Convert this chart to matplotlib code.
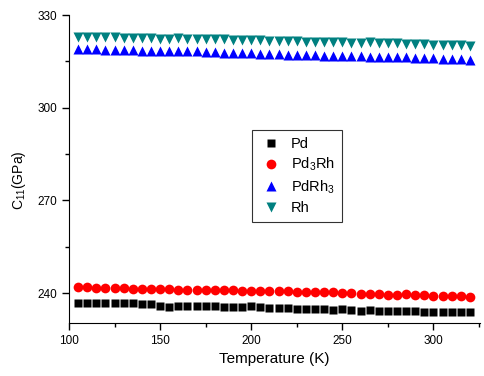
import numpy as np
import matplotlib
matplotlib.use("Agg")
import matplotlib.pyplot as plt
from matplotlib.ticker import MultipleLocator

plt.rcParams['font.family'] = ['Liberation Sans', 'DejaVu Sans']
plt.rcParams['mathtext.fontset'] = 'custom'
plt.rcParams['mathtext.rm'] = 'Liberation Sans'
plt.rcParams['mathtext.it'] = 'Liberation Sans'

# temperature (K)
temp = list(range(105, 321, 5))

# C11 (GPa)
pd = [236.8, 236.8, 236.8, 236.7, 236.7, 236.7, 236.7, 236.5, 236.3, 235.8, 235.6,
      235.7, 235.9, 235.8, 235.7, 235.7, 235.6, 235.6, 235.6, 235.7, 235.4, 235.2,
      235.2, 235.1, 234.9, 234.9, 234.8, 234.7, 234.6, 234.8, 234.6, 234.3, 234.6,
      234.1, 234.2, 234.2, 234.2, 234.1, 234.0, 233.8, 234.0, 234.0, 233.9, 233.8]
pd3rh = [241.9, 241.9, 241.6, 241.6, 241.5, 241.5, 241.4, 241.3, 241.3, 241.3, 241.3,
         241.0, 241.0, 241.1, 241.0, 240.9, 240.9, 240.9, 240.8, 240.8, 240.8, 240.5,
         240.5, 240.5, 240.3, 240.4, 240.3, 240.3, 240.2, 239.9, 239.9, 239.8, 239.6,
         239.6, 239.5, 239.5, 239.6, 239.4, 239.4, 239.0, 239.1, 239.0, 239.0, 238.6]
pdrh3 = [319.0, 318.9, 318.9, 318.8, 318.7, 318.7, 318.6, 318.5, 318.5, 318.4, 318.3,
         318.2, 318.2, 318.2, 318.0, 317.9, 317.8, 317.8, 317.7, 317.6, 317.5, 317.5,
         317.3, 317.2, 317.2, 317.1, 317.1, 316.9, 316.8, 316.8, 316.7, 316.6, 316.5,
         316.5, 316.4, 316.3, 316.3, 316.2, 316.1, 316.0, 315.9, 315.9, 315.7, 315.3]
rh = [323.0, 322.9, 322.9, 322.8, 322.8, 322.7, 322.6, 322.6, 322.5, 322.4, 322.4,
      322.5, 322.3, 322.2, 322.2, 322.1, 322.1, 322.0, 322.0, 322.0, 321.9, 321.6,
      321.6, 321.5, 321.5, 321.4, 321.4, 321.3, 321.2, 321.2, 321.0, 321.0, 321.3,
      321.1, 320.9, 320.8, 320.7, 320.6, 320.5, 320.4, 320.2, 320.3, 320.2, 319.9]

fig = plt.figure(figsize=(4.84, 3.76), dpi=100)
ax = fig.add_axes([0.1426, 0.141, 0.849, 0.819])

ax.plot(temp, pd, 's', color='black', ms=6, mec='none', label='Pd')
ax.plot(temp, pd3rh, 'o', color='red', ms=7, mec='none', label='Pd$_3$Rh')
ax.plot(temp, pdrh3, '^', color='blue', ms=7.5, mec='none', label='PdRh$_3$')
ax.plot(temp, rh, 'v', color='#008080', ms=7.5, mec='none', label='Rh')

ax.set_xlim(100, 325.5)
ax.set_ylim(230.3, 330)
ax.xaxis.set_major_locator(MultipleLocator(50))
ax.xaxis.set_minor_locator(MultipleLocator(25))
ax.yaxis.set_major_locator(MultipleLocator(30))
ax.yaxis.set_minor_locator(MultipleLocator(15))
ax.set_yticks([240, 270, 300, 330])

for s in ['top', 'right']:
    ax.spines[s].set_visible(False)
ax.tick_params(which='major', direction='out', length=5, width=1, labelsize=8.5)
ax.tick_params(which='minor', direction='out', length=3, width=1)

ax.set_xlabel('Temperature (K)', fontsize=11)
ax.set_ylabel('C$_{11}$(GPa)', fontsize=10)
ax.yaxis.set_label_coords(-0.1, 0.464)

leg = ax.legend(loc='center', bbox_to_anchor=(297 / 484, 1 - 176 / 376),
                bbox_transform=fig.transFigure, fontsize=10.5, frameon=True,
                fancybox=False, edgecolor='black', handletextpad=0.6,
                handlelength=1.6, labelspacing=0.35, borderpad=0.45)
leg.get_frame().set_linewidth(0.8)

fig.savefig('out.png', dpi=100)
